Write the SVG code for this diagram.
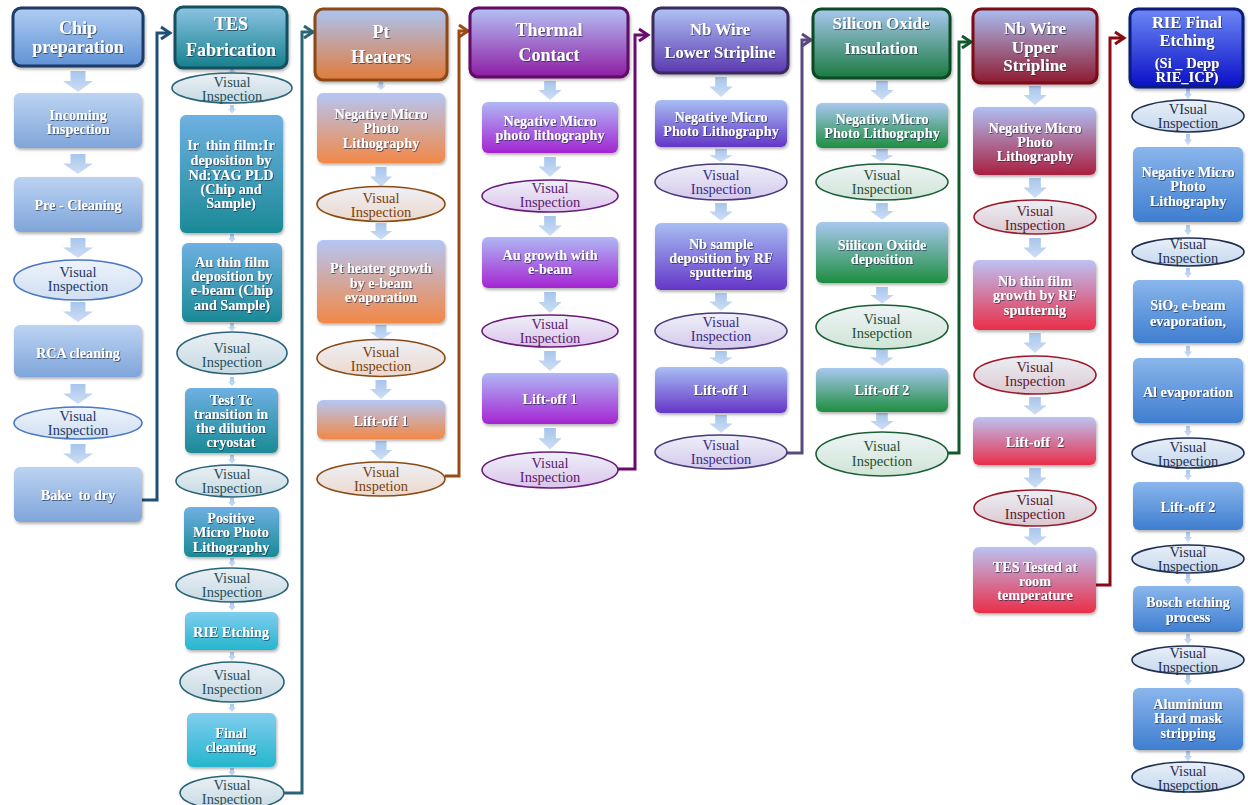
<svg xmlns="http://www.w3.org/2000/svg" width="1248" height="805" viewBox="0 0 1248 805">
<defs>
<style>
text{font-family:"Liberation Serif","Times New Roman",serif;text-anchor:middle}
.ht{font-size:18px;font-weight:bold;fill:#fff;filter:url(#ts)}
.bt{font-size:14.2px;font-weight:bold;fill:#fff;filter:url(#ts)}
.et{font-size:14.5px}
.hd{stroke-width:3}
.bx{filter:url(#bs)}
.el{stroke-width:1.6}
.cn{fill:none;stroke-width:3;stroke-linejoin:miter}
.ar{fill:url(#gArr);opacity:.92}
.c1 .el{fill:url(#e1);stroke:#4a78c0}.c1 .et{fill:#1f3864}
.c2 .el{fill:url(#e2);stroke:#2a6478}.c2 .et{fill:#1f4e5a}
.c3 .el{fill:url(#e3);stroke:#8a4a14}.c3 .et{fill:#7b3f10}
.c4 .el{fill:url(#e4);stroke:#6a1a78}.c4 .et{fill:#5a1a6a}
.c5 .el{fill:url(#e5);stroke:#4a3a7a}.c5 .et{fill:#3a2a8a}
.c6 .el{fill:url(#e6);stroke:#1a5e35}.c6 .et{fill:#1f4e35}
.c7 .el{fill:url(#e7);stroke:#9b1a2a}.c7 .et{fill:#5a1a2a}
.c8 .el{fill:url(#e8);stroke:#1f3050}.c8 .et{fill:#1f3050}
</style>
<filter id="ts" x="-10%" y="-30%" width="120%" height="160%"><feDropShadow dx="0.8" dy="0.9" stdDeviation="0.6" flood-color="#1a2a40" flood-opacity="0.75"/></filter>
<filter id="bs" x="-10%" y="-10%" width="125%" height="130%"><feDropShadow dx="1" dy="2" stdDeviation="1.5" flood-color="#000" flood-opacity="0.3"/></filter>
<linearGradient id="gArr" x1="0" y1="0" x2="0" y2="1"><stop offset="0" stop-color="#9fc0ea"/><stop offset="1" stop-color="#cadcf4"/></linearGradient>
<linearGradient id="hChip" x1="0" y1="0" x2="0" y2="1"><stop offset="0" stop-color="#b0cdf2"/><stop offset="1" stop-color="#5f92d6"/></linearGradient>
<linearGradient id="bBlue" x1="0" y1="0" x2="0" y2="1"><stop offset="0" stop-color="#bcd3f2"/><stop offset="1" stop-color="#7fa5da"/></linearGradient>
<linearGradient id="hTes" x1="0" y1="0" x2="0" y2="1"><stop offset="0" stop-color="#8cc4e4"/><stop offset="1" stop-color="#15808c"/></linearGradient>
<linearGradient id="bTeal" x1="0" y1="0" x2="0" y2="1"><stop offset="0" stop-color="#6eb0e2"/><stop offset="1" stop-color="#1a8a96"/></linearGradient>
<linearGradient id="bCyan" x1="0" y1="0" x2="0" y2="1"><stop offset="0" stop-color="#80cdef"/><stop offset="1" stop-color="#25b6ce"/></linearGradient>
<linearGradient id="hPt" x1="0" y1="0" x2="0" y2="1"><stop offset="0" stop-color="#aac4f4"/><stop offset="1" stop-color="#e27a3a"/></linearGradient>
<linearGradient id="bOr" x1="0" y1="0" x2="0" y2="1"><stop offset="0" stop-color="#b4c6f5"/><stop offset="1" stop-color="#f28846"/></linearGradient>
<linearGradient id="hTh" x1="0" y1="0" x2="0" y2="1"><stop offset="0" stop-color="#b4c2f4"/><stop offset="1" stop-color="#8e1ca4"/></linearGradient>
<linearGradient id="bMg" x1="0" y1="0" x2="0" y2="1"><stop offset="0" stop-color="#b0b8f5"/><stop offset="1" stop-color="#a424d2"/></linearGradient>
<linearGradient id="hNb" x1="0" y1="0" x2="0" y2="1"><stop offset="0" stop-color="#b0c4f4"/><stop offset="1" stop-color="#5a38b0"/></linearGradient>
<linearGradient id="bVi" x1="0" y1="0" x2="0" y2="1"><stop offset="0" stop-color="#a8bef3"/><stop offset="1" stop-color="#6436c8"/></linearGradient>
<linearGradient id="hSi" x1="0" y1="0" x2="0" y2="1"><stop offset="0" stop-color="#a8c8f0"/><stop offset="1" stop-color="#1a7a40"/></linearGradient>
<linearGradient id="bGr" x1="0" y1="0" x2="0" y2="1"><stop offset="0" stop-color="#a8c8f0"/><stop offset="1" stop-color="#1e8e40"/></linearGradient>
<linearGradient id="hUp" x1="0" y1="0" x2="0" y2="1"><stop offset="0" stop-color="#aabef2"/><stop offset="1" stop-color="#8e1a30"/></linearGradient>
<linearGradient id="bRd" x1="0" y1="0" x2="0" y2="1"><stop offset="0" stop-color="#b0bff4"/><stop offset="1" stop-color="#a82040"/></linearGradient>
<linearGradient id="bRb" x1="0" y1="0" x2="0" y2="1"><stop offset="0" stop-color="#bcc2f4"/><stop offset="1" stop-color="#ea2e48"/></linearGradient>
<linearGradient id="hRie" x1="0" y1="0" x2="0" y2="1"><stop offset="0" stop-color="#6c88f5"/><stop offset="1" stop-color="#0a10c8"/></linearGradient>
<linearGradient id="bRie" x1="0" y1="0" x2="0" y2="1"><stop offset="0" stop-color="#8ab6ec"/><stop offset="1" stop-color="#3f7ed0"/></linearGradient>
<linearGradient id="e1" x1="0" y1="0" x2="0" y2="1"><stop offset="0" stop-color="#eef3fa"/><stop offset="1" stop-color="#cfdff3"/></linearGradient>
<linearGradient id="e2" x1="0" y1="0" x2="0" y2="1"><stop offset="0" stop-color="#eaf0f4"/><stop offset="1" stop-color="#c6d9e3"/></linearGradient>
<linearGradient id="e3" x1="0" y1="0" x2="0" y2="1"><stop offset="0" stop-color="#eef0f6"/><stop offset="1" stop-color="#ecd8cc"/></linearGradient>
<linearGradient id="e4" x1="0" y1="0" x2="0" y2="1"><stop offset="0" stop-color="#eef0f8"/><stop offset="1" stop-color="#dcc4ec"/></linearGradient>
<linearGradient id="e5" x1="0" y1="0" x2="0" y2="1"><stop offset="0" stop-color="#eef0f8"/><stop offset="1" stop-color="#d4c8ec"/></linearGradient>
<linearGradient id="e6" x1="0" y1="0" x2="0" y2="1"><stop offset="0" stop-color="#eef4f6"/><stop offset="1" stop-color="#cfe4d6"/></linearGradient>
<linearGradient id="e7" x1="0" y1="0" x2="0" y2="1"><stop offset="0" stop-color="#eceff6"/><stop offset="1" stop-color="#dcc8d0"/></linearGradient>
<linearGradient id="e8" x1="0" y1="0" x2="0" y2="1"><stop offset="0" stop-color="#e8eff8"/><stop offset="1" stop-color="#c6d8ee"/></linearGradient>
<path id="arr" d="M-6.5,0 H6.5 V10 H13 L0,21 L-13,10 H-6.5 Z"/>
<marker id="m1" viewBox="0 0 14 16" refX="11" refY="8" markerWidth="14" markerHeight="16" markerUnits="userSpaceOnUse" orient="auto"><path d="M2,2 L11,8 L2,14" fill="none" stroke="#1f4e79" stroke-width="3"/></marker>
<marker id="m2" viewBox="0 0 14 16" refX="11" refY="8" markerWidth="14" markerHeight="16" markerUnits="userSpaceOnUse" orient="auto"><path d="M2,2 L11,8 L2,14" fill="none" stroke="#2a6478" stroke-width="3"/></marker>
<marker id="m3" viewBox="0 0 14 16" refX="11" refY="8" markerWidth="14" markerHeight="16" markerUnits="userSpaceOnUse" orient="auto"><path d="M2,2 L11,8 L2,14" fill="none" stroke="#9a4a12" stroke-width="3"/></marker>
<marker id="m4" viewBox="0 0 14 16" refX="11" refY="8" markerWidth="14" markerHeight="16" markerUnits="userSpaceOnUse" orient="auto"><path d="M2,2 L11,8 L2,14" fill="none" stroke="#6a0a6e" stroke-width="3"/></marker>
<marker id="m5" viewBox="0 0 14 16" refX="11" refY="8" markerWidth="14" markerHeight="16" markerUnits="userSpaceOnUse" orient="auto"><path d="M2,2 L11,8 L2,14" fill="none" stroke="#5a4880" stroke-width="3"/></marker>
<marker id="m6" viewBox="0 0 14 16" refX="11" refY="8" markerWidth="14" markerHeight="16" markerUnits="userSpaceOnUse" orient="auto"><path d="M2,2 L11,8 L2,14" fill="none" stroke="#0e5a2e" stroke-width="3"/></marker>
<marker id="m7" viewBox="0 0 14 16" refX="11" refY="8" markerWidth="14" markerHeight="16" markerUnits="userSpaceOnUse" orient="auto"><path d="M2,2 L11,8 L2,14" fill="none" stroke="#8a0a10" stroke-width="3"/></marker>
</defs>
<rect width="1248" height="805" fill="#fff"/>

<g id="connectors">
<path class="cn" stroke="#1f4e79" d="M142,500 H157 V33 H170" marker-end="url(#m1)"/>
<path class="cn" stroke="#2a6478" d="M284,793 H302 V32 H313" marker-end="url(#m2)"/>
<path class="cn" stroke="#9a4a12" d="M445,476 H459 V31 H468" marker-end="url(#m3)"/>
<path class="cn" stroke="#6a0a6e" d="M618,469 H635 V35 H648" marker-end="url(#m4)"/>
<path class="cn" stroke="#5a4880" d="M787,453 H802 V40 H811" marker-end="url(#m5)"/>
<path class="cn" stroke="#0e5a2e" d="M948,453 H959 V42 H971" marker-end="url(#m6)"/>
<path class="cn" stroke="#8a0a10" d="M1096,585 H1110 V38 H1124" marker-end="url(#m7)"/>
</g>

<g id="flow-arrows">
<use href="#arr" class="ar" transform="translate(78,71) scale(1.15,1)"/>
<use href="#arr" class="ar" transform="translate(78,154) scale(1.15,0.95)"/>
<use href="#arr" class="ar" transform="translate(78,238) scale(1.15,0.95)"/>
<use href="#arr" class="ar" transform="translate(78,302) scale(1.15,0.95)"/>
<use href="#arr" class="ar" transform="translate(78,384) scale(1.15,0.95)"/>
<use href="#arr" class="ar" transform="translate(78,444) scale(1.15,0.95)"/>

<use href="#arr" class="ar" transform="translate(232,69) scale(0.3,0.2)"/>
<use href="#arr" class="ar" transform="translate(232,105) scale(0.3,0.4)"/>
<use href="#arr" class="ar" transform="translate(232,234) scale(0.3,0.4)"/>
<use href="#arr" class="ar" transform="translate(232,323) scale(0.3,0.4)"/>
<use href="#arr" class="ar" transform="translate(232,377) scale(0.3,0.45)"/>
<use href="#arr" class="ar" transform="translate(232,455) scale(0.3,0.42)"/>
<use href="#arr" class="ar" transform="translate(232,498) scale(0.3,0.4)"/>
<use href="#arr" class="ar" transform="translate(232,558) scale(0.3,0.42)"/>
<use href="#arr" class="ar" transform="translate(232,602) scale(0.3,0.42)"/>
<use href="#arr" class="ar" transform="translate(232,652) scale(0.3,0.42)"/>
<use href="#arr" class="ar" transform="translate(232,704) scale(0.3,0.38)"/>
<use href="#arr" class="ar" transform="translate(232,768) scale(0.3,0.38)"/>

<use href="#arr" class="ar" transform="translate(381,82) scale(0.35,0.38)"/>
<use href="#arr" class="ar" transform="translate(381,167) scale(0.85,0.95)"/>
<use href="#arr" class="ar" transform="translate(381,223) scale(0.85,0.8)"/>
<use href="#arr" class="ar" transform="translate(381,325) scale(0.85,0.72)"/>
<use href="#arr" class="ar" transform="translate(381,380) scale(0.85,0.9)"/>
<use href="#arr" class="ar" transform="translate(381,441) scale(0.85,0.9)"/>

<use href="#arr" class="ar" transform="translate(550,81) scale(0.9,0.9)"/>
<use href="#arr" class="ar" transform="translate(550,157) scale(0.9,0.95)"/>
<use href="#arr" class="ar" transform="translate(550,216) scale(0.9,0.95)"/>
<use href="#arr" class="ar" transform="translate(550,292) scale(0.9,1)"/>
<use href="#arr" class="ar" transform="translate(550,351) scale(0.9,0.95)"/>
<use href="#arr" class="ar" transform="translate(550,428) scale(0.9,1.02)"/>

<use href="#arr" class="ar" transform="translate(721,77) scale(0.9,0.95)"/>
<use href="#arr" class="ar" transform="translate(721,149) scale(0.9,0.62)"/>
<use href="#arr" class="ar" transform="translate(721,203) scale(0.9,0.85)"/>
<use href="#arr" class="ar" transform="translate(721,293) scale(0.9,0.85)"/>
<use href="#arr" class="ar" transform="translate(721,351) scale(0.9,0.66)"/>
<use href="#arr" class="ar" transform="translate(721,415) scale(0.9,0.85)"/>

<use href="#arr" class="ar" transform="translate(882,81) scale(0.9,0.9)"/>
<use href="#arr" class="ar" transform="translate(882,149) scale(0.9,0.62)"/>
<use href="#arr" class="ar" transform="translate(882,203) scale(0.9,0.8)"/>
<use href="#arr" class="ar" transform="translate(882,287) scale(0.9,0.8)"/>
<use href="#arr" class="ar" transform="translate(882,350) scale(0.9,0.76)"/>
<use href="#arr" class="ar" transform="translate(882,413) scale(0.9,0.8)"/>

<use href="#arr" class="ar" transform="translate(1035,86) scale(0.9,0.9)"/>
<use href="#arr" class="ar" transform="translate(1035,178) scale(0.9,0.95)"/>
<use href="#arr" class="ar" transform="translate(1035,238) scale(0.9,0.95)"/>
<use href="#arr" class="ar" transform="translate(1035,333) scale(0.9,0.95)"/>
<use href="#arr" class="ar" transform="translate(1035,397) scale(0.9,0.85)"/>
<use href="#arr" class="ar" transform="translate(1035,468) scale(0.9,0.95)"/>
<use href="#arr" class="ar" transform="translate(1035,528) scale(0.9,0.85)"/>

<use href="#arr" class="ar" transform="translate(1188,88) scale(0.3,0.55)"/>
<use href="#arr" class="ar" transform="translate(1188,134) scale(0.3,0.55)"/>
<use href="#arr" class="ar" transform="translate(1188,225) scale(0.3,0.5)"/>
<use href="#arr" class="ar" transform="translate(1188,268) scale(0.3,0.48)"/>
<use href="#arr" class="ar" transform="translate(1188,346) scale(0.3,0.55)"/>
<use href="#arr" class="ar" transform="translate(1188,426) scale(0.3,0.5)"/>
<use href="#arr" class="ar" transform="translate(1188,470) scale(0.3,0.5)"/>
<use href="#arr" class="ar" transform="translate(1188,532) scale(0.3,0.5)"/>
<use href="#arr" class="ar" transform="translate(1188,574) scale(0.3,0.5)"/>
<use href="#arr" class="ar" transform="translate(1188,634) scale(0.3,0.5)"/>
<use href="#arr" class="ar" transform="translate(1188,675) scale(0.3,0.5)"/>
<use href="#arr" class="ar" transform="translate(1188,751) scale(0.3,0.5)"/>
</g>

<!-- Column 1 -->
<g class="c1">
<g id="chip-prep"><rect class="hd bx" x="13" y="8" width="130" height="58" rx="8" fill="url(#hChip)" stroke="#1b3a66"/><text class="ht" x="78" y="34">Chip</text><text class="ht" x="78" y="53">preparation</text></g>
<g id="incoming"><rect class="bx" x="14" y="93" width="128" height="55" rx="6" fill="url(#bBlue)"/><text class="bt" x="78" y="120">Incoming</text><text class="bt" x="78" y="134">Inspection</text></g>
<g id="pre-clean"><rect class="bx" x="14" y="177" width="128" height="55" rx="6" fill="url(#bBlue)"/><text class="bt" x="78" y="210">Pre - Cleaning</text></g>
<g id="vi-1a"><ellipse class="el" cx="78" cy="280" rx="64" ry="20"/><text class="et" x="78" y="277">Visual</text><text class="et" x="78" y="291">Inspection</text></g>
<g id="rca"><rect class="bx" x="14" y="325" width="128" height="52" rx="6" fill="url(#bBlue)"/><text class="bt" x="78" y="358">RCA cleaning</text></g>
<g id="vi-1b"><ellipse class="el" cx="78" cy="423" rx="64" ry="16"/><text class="et" x="78" y="421">Visual</text><text class="et" x="78" y="435">Inspection</text></g>
<g id="bake"><rect class="bx" x="14" y="467" width="128" height="55" rx="6" fill="url(#bBlue)"/><text class="bt" x="78" y="500" xml:space="preserve">Bake  to dry</text></g>
</g>

<!-- Column 2 -->
<g class="c2">
<g id="tes-fab"><rect class="hd bx" x="175" y="7" width="112" height="61" rx="8" fill="url(#hTes)" stroke="#14505e"/><text class="ht" x="231" y="30">TES</text><text class="ht" x="231" y="56">Fabrication</text></g>
<g id="vi-2a"><ellipse class="el" cx="232" cy="88" rx="60" ry="15"/><text class="et" x="232" y="87">Visual</text><text class="et" x="232" y="101">Inspection</text></g>
<g id="ir-film"><rect class="bx" x="180" y="115" width="103" height="118" rx="6" fill="url(#bTeal)"/><text class="bt" x="231" y="150" xml:space="preserve">Ir  thin film:Ir</text><text class="bt" x="231" y="165">deposition by</text><text class="bt" x="231" y="180">Nd:YAG PLD</text><text class="bt" x="231" y="194">(Chip and</text><text class="bt" x="231" y="208">Sample)</text></g>
<g id="au-film"><rect class="bx" x="182" y="243" width="100" height="79" rx="6" fill="url(#bTeal)"/><text class="bt" x="232" y="267">Au thin film</text><text class="bt" x="232" y="281">deposition by</text><text class="bt" x="232" y="295">e-beam (Chip</text><text class="bt" x="232" y="310">and Sample)</text></g>
<g id="vi-2b"><ellipse class="el" cx="232" cy="353" rx="55" ry="21"/><text class="et" x="232" y="353">Visual</text><text class="et" x="232" y="367">Inspection</text></g>
<g id="test-tc"><rect class="bx" x="185" y="388" width="93" height="65" rx="6" fill="url(#bTeal)"/><text class="bt" x="231" y="405">Test Tc</text><text class="bt" x="231" y="419">transition in</text><text class="bt" x="231" y="433">the dilution</text><text class="bt" x="231" y="447">cryostat</text></g>
<g id="vi-2c"><ellipse class="el" cx="232" cy="481" rx="56" ry="16"/><text class="et" x="232" y="479">Visual</text><text class="et" x="232" y="493">Inspection</text></g>
<g id="positive"><rect class="bx" x="184" y="507" width="95" height="50" rx="6" fill="url(#bTeal)"/><text class="bt" x="231" y="523">Positive</text><text class="bt" x="231" y="537">Micro Photo</text><text class="bt" x="231" y="552">Lithography</text></g>
<g id="vi-2d"><ellipse class="el" cx="232" cy="585" rx="56" ry="17"/><text class="et" x="232" y="583">Visual</text><text class="et" x="232" y="597">Inspection</text></g>
<g id="rie-etch"><rect class="bx" x="185" y="612" width="93" height="38" rx="6" fill="url(#bCyan)"/><text class="bt" x="231" y="637">RIE Etching</text></g>
<g id="vi-2e"><ellipse class="el" cx="232" cy="682" rx="52" ry="20"/><text class="et" x="232" y="680">Visual</text><text class="et" x="232" y="694">Inspection</text></g>
<g id="final-clean"><rect class="bx" x="187" y="713" width="89" height="54" rx="6" fill="url(#bCyan)"/><text class="bt" x="231" y="738">Final</text><text class="bt" x="231" y="752">cleaning</text></g>
<g id="vi-2f"><ellipse class="el" cx="232" cy="793" rx="52" ry="17"/><text class="et" x="232" y="790">Visual</text><text class="et" x="232" y="804">Inspection</text></g>
</g>

<!-- Column 3 -->
<g class="c3">
<g id="pt-heaters"><rect class="hd bx" x="315" y="9" width="132" height="71" rx="8" fill="url(#hPt)" stroke="#8a4a14"/><text class="ht" x="381" y="38">Pt</text><text class="ht" x="381" y="63">Heaters</text></g>
<g id="neg-3"><rect class="bx" x="317" y="93" width="128" height="70" rx="6" fill="url(#bOr)"/><text class="bt" x="381" y="119">Negative Micro</text><text class="bt" x="381" y="133">Photo</text><text class="bt" x="381" y="148">Lithography</text></g>
<g id="vi-3a"><ellipse class="el" cx="381" cy="204" rx="64" ry="17.5"/><text class="et" x="381" y="203">Visual</text><text class="et" x="381" y="217">Inspection</text></g>
<g id="pt-growth"><rect class="bx" x="317" y="240" width="128" height="83" rx="6" fill="url(#bOr)"/><text class="bt" x="381" y="273">Pt heater growth</text><text class="bt" x="381" y="288">by e-beam</text><text class="bt" x="381" y="302">evaporation</text></g>
<g id="vi-3b"><ellipse class="el" cx="381" cy="358" rx="64" ry="18.5"/><text class="et" x="381" y="357">Visual</text><text class="et" x="381" y="371">Inspection</text></g>
<g id="lift-3"><rect class="bx" x="317" y="400" width="128" height="39" rx="6" fill="url(#bOr)"/><text class="bt" x="381" y="426">Lift-off 1</text></g>
<g id="vi-3c"><ellipse class="el" cx="381" cy="479" rx="64" ry="17"/><text class="et" x="381" y="477">Visual</text><text class="et" x="381" y="491">Inspetion</text></g>
</g>

<!-- Column 4 -->
<g class="c4">
<g id="thermal"><rect class="hd bx" x="470" y="8" width="158" height="69" rx="8" fill="url(#hTh)" stroke="#5e0a62"/><text class="ht" x="549" y="36">Thermal</text><text class="ht" x="549" y="61">Contact</text></g>
<g id="neg-4"><rect class="bx" x="482" y="102" width="136" height="51" rx="6" fill="url(#bMg)"/><text class="bt" x="550" y="126">Negative Micro</text><text class="bt" x="550" y="140">photo lithography</text></g>
<g id="vi-4a"><ellipse class="el" cx="550" cy="196" rx="68" ry="16"/><text class="et" x="550" y="193">Visual</text><text class="et" x="550" y="207">Inspection</text></g>
<g id="au-growth"><rect class="bx" x="482" y="237" width="136" height="51" rx="6" fill="url(#bMg)"/><text class="bt" x="550" y="260">Au growth with</text><text class="bt" x="550" y="274">e-beam</text></g>
<g id="vi-4b"><ellipse class="el" cx="550" cy="331" rx="68" ry="16"/><text class="et" x="550" y="329">Visual</text><text class="et" x="550" y="343">Inspection</text></g>
<g id="lift-4"><rect class="bx" x="482" y="373" width="136" height="51" rx="6" fill="url(#bMg)"/><text class="bt" x="550" y="404">Lift-off 1</text></g>
<g id="vi-4c"><ellipse class="el" cx="550" cy="470" rx="68" ry="18"/><text class="et" x="550" y="468">Visual</text><text class="et" x="550" y="482">Inspection</text></g>
</g>

<!-- Column 5 -->
<g class="c5">
<g id="nb-lower"><rect class="hd bx" x="653" y="8" width="135" height="65" rx="8" fill="url(#hNb)" stroke="#3a2a5e"/><text class="ht" x="720" y="35" style="font-size:16.5px">Nb Wire</text><text class="ht" x="720" y="58" style="font-size:16.5px">Lower Stripline</text></g>
<g id="neg-5"><rect class="bx" x="655" y="100" width="132" height="47" rx="6" fill="url(#bVi)"/><text class="bt" x="721" y="122">Negative Micro</text><text class="bt" x="721" y="136">Photo Lithography</text></g>
<g id="vi-5a"><ellipse class="el" cx="721" cy="182" rx="66" ry="18"/><text class="et" x="721" y="180">Visual</text><text class="et" x="721" y="194">Inspection</text></g>
<g id="nb-sample"><rect class="bx" x="655" y="223" width="132" height="67" rx="6" fill="url(#bVi)"/><text class="bt" x="721" y="249">Nb sample</text><text class="bt" x="721" y="263">deposition by RF</text><text class="bt" x="721" y="277">sputtering</text></g>
<g id="vi-5b"><ellipse class="el" cx="721" cy="331" rx="66" ry="18"/><text class="et" x="721" y="327">Visual</text><text class="et" x="721" y="341">Inspection</text></g>
<g id="lift-5"><rect class="bx" x="655" y="367" width="132" height="46" rx="6" fill="url(#bVi)"/><text class="bt" x="721" y="395">Lift-off 1</text></g>
<g id="vi-5c"><ellipse class="el" cx="721" cy="452" rx="66" ry="17"/><text class="et" x="721" y="450">Visual</text><text class="et" x="721" y="464">Inspection</text></g>
</g>

<!-- Column 6 -->
<g class="c6">
<g id="si-oxide"><rect class="hd bx" x="813" y="9" width="137" height="69" rx="8" fill="url(#hSi)" stroke="#0b4a25"/><text class="ht" x="881" y="29" style="font-size:17px">Silicon Oxide</text><text class="ht" x="881" y="54" style="font-size:17px">Insulation</text></g>
<g id="neg-6"><rect class="bx" x="816" y="103" width="132" height="45" rx="6" fill="url(#bGr)"/><text class="bt" x="882" y="124">Negative Micro</text><text class="bt" x="882" y="138">Photo Lithography</text></g>
<g id="vi-6a"><ellipse class="el" cx="882" cy="182" rx="66" ry="18"/><text class="et" x="882" y="180">Visual</text><text class="et" x="882" y="194">Inspection</text></g>
<g id="sio-dep"><rect class="bx" x="816" y="222" width="132" height="61" rx="6" fill="url(#bGr)"/><text class="bt" x="882" y="250">Siilicon Oxiide</text><text class="bt" x="882" y="264">deposition</text></g>
<g id="vi-6b"><ellipse class="el" cx="882" cy="327" rx="66" ry="22"/><text class="et" x="882" y="324">Visual</text><text class="et" x="882" y="338">Insepction</text></g>
<g id="lift-6"><rect class="bx" x="816" y="368" width="132" height="44" rx="6" fill="url(#bGr)"/><text class="bt" x="882" y="395">Lift-off 2</text></g>
<g id="vi-6c"><ellipse class="el" cx="882" cy="454" rx="66" ry="22"/><text class="et" x="882" y="451">Visual</text><text class="et" x="882" y="466">Inspection</text></g>
</g>

<!-- Column 7 -->
<g class="c7">
<g id="nb-upper"><rect class="hd bx" x="973" y="9" width="124" height="74" rx="8" fill="url(#hUp)" stroke="#7a0a14"/><text class="ht" x="1035" y="34" style="font-size:17px">Nb Wire</text><text class="ht" x="1035" y="53" style="font-size:17px">Upper</text><text class="ht" x="1035" y="71" style="font-size:17px">Stripline</text></g>
<g id="neg-7"><rect class="bx" x="973" y="107" width="123" height="68" rx="6" fill="url(#bRd)"/><text class="bt" x="1035" y="133">Negative Micro</text><text class="bt" x="1035" y="147">Photo</text><text class="bt" x="1035" y="161">Lithography</text></g>
<g id="vi-7a"><ellipse class="el" cx="1035" cy="217" rx="61" ry="17"/><text class="et" x="1035" y="216">Visual</text><text class="et" x="1035" y="230">Inspection</text></g>
<g id="nb-film"><rect class="bx" x="973" y="260" width="123" height="70" rx="6" fill="url(#bRb)"/><text class="bt" x="1035" y="286">Nb thin film</text><text class="bt" x="1035" y="300">growth by RF</text><text class="bt" x="1035" y="315">sputternig</text></g>
<g id="vi-7b"><ellipse class="el" cx="1035" cy="375" rx="61" ry="19"/><text class="et" x="1035" y="372">Visual</text><text class="et" x="1035" y="386">Inspection</text></g>
<g id="lift-7"><rect class="bx" x="973" y="417" width="123" height="48" rx="6" fill="url(#bRb)"/><text class="bt" x="1035" y="447" xml:space="preserve">Lift-off  2</text></g>
<g id="vi-7c"><ellipse class="el" cx="1035" cy="508" rx="61" ry="18"/><text class="et" x="1035" y="505">Visual</text><text class="et" x="1035" y="519">Inspection</text></g>
<g id="tes-tested"><rect class="bx" x="973" y="547" width="123" height="66" rx="6" fill="url(#bRb)"/><text class="bt" x="1035" y="572">TES Tested at</text><text class="bt" x="1035" y="586">room</text><text class="bt" x="1035" y="600">temperature</text></g>
</g>

<!-- Column 8 -->
<g class="c8">
<g id="rie-final"><rect class="hd bx" x="1130" y="9" width="113" height="78" rx="8" fill="url(#hRie)" stroke="#0a1a7a"/><text class="ht" x="1187" y="28" style="font-size:16.5px">RIE Final</text><text class="ht" x="1187" y="46" style="font-size:16.5px">Etching</text><text class="ht" x="1187" y="68" style="font-size:14.5px">(Si _ Depp</text><text class="ht" x="1187" y="82" style="font-size:14.5px">RIE_ICP)</text></g>
<g id="vi-8a"><ellipse class="el" cx="1188" cy="116" rx="56" ry="16"/><text class="et" x="1188" y="114">VIsual</text><text class="et" x="1188" y="128">Inspection</text></g>
<g id="neg-8"><rect class="bx" x="1133" y="147" width="110" height="75" rx="6" fill="url(#bRie)"/><text class="bt" x="1188" y="177">Negative Micro</text><text class="bt" x="1188" y="191">Photo</text><text class="bt" x="1188" y="206">Lithography</text></g>
<g id="vi-8b"><ellipse class="el" cx="1188" cy="252" rx="56" ry="14"/><text class="et" x="1188" y="249">Visual</text><text class="et" x="1188" y="263">Inspection</text></g>
<g id="sio2"><rect class="bx" x="1133" y="280" width="110" height="63" rx="6" fill="url(#bRie)"/><text class="bt" x="1188" y="310">SiO<tspan font-size="9.5px" dy="2">2</tspan><tspan dy="-2"> e-beam</tspan></text><text class="bt" x="1188" y="326">evaporation,</text></g>
<g id="al-evap"><rect class="bx" x="1133" y="358" width="110" height="65" rx="6" fill="url(#bRie)"/><text class="bt" x="1188" y="397">Al evaporation</text></g>
<g id="vi-8c"><ellipse class="el" cx="1188" cy="453" rx="56" ry="15"/><text class="et" x="1188" y="452">Visual</text><text class="et" x="1188" y="466">Inspection</text></g>
<g id="lift-8"><rect class="bx" x="1133" y="482" width="110" height="48" rx="6" fill="url(#bRie)"/><text class="bt" x="1188" y="512">Lift-off 2</text></g>
<g id="vi-8d"><ellipse class="el" cx="1188" cy="559" rx="56" ry="14"/><text class="et" x="1188" y="557">Visual</text><text class="et" x="1188" y="571">Inspection</text></g>
<g id="bosch"><rect class="bx" x="1133" y="586" width="110" height="46" rx="6" fill="url(#bRie)"/><text class="bt" x="1188" y="607">Bosch etching</text><text class="bt" x="1188" y="622">process</text></g>
<g id="vi-8e"><ellipse class="el" cx="1188" cy="660" rx="56" ry="14"/><text class="et" x="1188" y="658">Visual</text><text class="et" x="1188" y="672">Inspection</text></g>
<g id="al-strip"><rect class="bx" x="1133" y="688" width="110" height="62" rx="6" fill="url(#bRie)"/><text class="bt" x="1188" y="709">Aluminium</text><text class="bt" x="1188" y="723">Hard mask</text><text class="bt" x="1188" y="738">stripping</text></g>
<g id="vi-8f"><ellipse class="el" cx="1188" cy="777" rx="56" ry="15"/><text class="et" x="1188" y="776">Visual</text><text class="et" x="1188" y="790">Insepction</text></g>
</g>
</svg>
